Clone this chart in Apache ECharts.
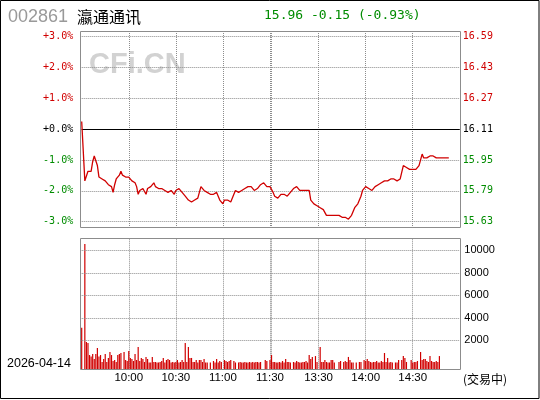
<!DOCTYPE html>
<html><head><meta charset="utf-8">
<script src="https://cdn.jsdelivr.net/npm/echarts@6/dist/echarts.min.js"></script>
<style>html,body{margin:0;padding:0;background:#fff}#c{width:540px;height:400px}</style>
</head><body><div id="c"></div>
<script>
const stockCode = '002861';
const stockName = '瀛通通讯';
const quoteText = '15.96 -0.15 (-0.93%)';
const watermarkText = 'CFi.CN';
const tradeDate = '2026-04-14';
const statusText = '(交易中)';
const prevClose = 16.11;
const pctRange = 3.18;
const pctTickValues = [3, 2, 1, 0, -1, -2, -3];
const pctTickLabels = ['+3.0%', '+2.0%', '+1.0%', '+0.0%', '-1.0%', '-2.0%', '-3.0%'];
const priceTickLabels = ['16.59', '16.43', '16.27', '16.11', '15.95', '15.79', '15.63'];
const volTickValues = [10000, 8000, 6000, 4000, 2000];
const volTickLabels = ['10000', '8000', '6000', '4000', '2000'];
const volAxisMin = -578;
const volAxisMax = 11031;
const timeTickLabels = ['10:00', '10:30', '11:00', '11:30', '13:30', '14:00', '14:30'];
const gridTimes = ['10:00', '10:30', '11:00', '11:30', '13:00', '13:30', '14:00', '14:30'];

// minute prices from 09:30
const prices = [
16.15,16.15,15.84,15.84,15.89,15.89,15.89,15.94,15.97,15.98,
15.92,15.86,15.85,15.85,15.85,15.84,15.85,15.82,15.81,15.81,
15.78,15.82,15.85,15.86,15.87,15.89,15.87,15.86,15.86,15.87,
15.86,15.85,15.84,15.84,15.83,15.81,15.77,15.79,15.80,15.80,
15.79,15.77,15.80,15.80,15.81,15.82,15.83,15.81,15.81,15.80,
15.80,15.80,15.80,15.79,15.79,15.78,15.77,15.79,15.78,15.77,
15.79,15.80,15.80,15.79,15.78,15.77,15.76,15.75,15.74,15.74,
15.73,15.73,15.74,15.74,15.75,15.78,15.81,15.81,15.79,15.78,
15.78,15.78,15.77,15.77,15.77,15.77,15.78,15.76,15.74,15.73,
15.72,15.74,15.74,15.74,15.74,15.73,15.72,15.77,15.79,15.79,
15.78,15.78,15.79,15.79,15.80,15.80,15.81,15.81,15.81,15.81,
15.79,15.80,15.80,15.81,15.82,15.83,15.83,15.83,15.81,15.81,
15.81,15.80,15.78,15.76,15.76,15.75,15.76,15.77,15.77,15.77,
15.76,15.76,15.77,15.78,15.79,15.80,15.81,15.81,15.80,15.79,
15.79,15.79,15.79,15.79,15.79,15.79,15.74,15.73,15.72,15.72,
15.71,15.72,15.70,15.69,15.69,15.69,15.66,15.66,15.66,15.66,
15.66,15.66,15.66,15.66,15.66,15.66,15.65,15.65,15.65,15.65,
15.64,15.63,15.66,15.68,15.70,15.71,15.72,15.73,15.76,15.79,
15.80,15.81,15.81,15.80,15.79,15.79,15.80,15.81,15.81,15.82,
15.82,15.83,15.83,15.84,15.85,15.84,15.85,15.85,15.85,15.85,
15.85,15.84,15.85,15.85,15.85,15.92,15.93,15.91,15.91,15.90,
15.90,15.90,15.90,15.90,15.91,15.92,15.95,15.98,15.96,15.95,
15.96,15.96,15.97,15.98,15.97,15.96,15.96,15.96,15.96,15.96,
15.96,15.96,15.96,15.96,15.96
];

// minute volumes (lots) from 09:30
const volumes = [
3120,null,10560,1850,1760,690,550,780,340,780,
1320,550,690,70,340,780,70,430,960,690,
160,250,70,690,780,870,null,960,250,160,
1050,430,340,160,780,250,1400,160,430,340,
70,520,340,30,30,520,70,70,30,30,
70,160,430,30,250,340,250,30,70,30,
70,250,30,70,250,70,1760,70,1400,430,
430,70,70,250,30,250,250,70,340,30,
30,null,30,null,160,30,340,30,160,70,
null,250,160,70,160,250,null,160,30,null,
30,70,30,30,70,30,30,70,30,70,
30,70,70,30,70,null,null,250,160,null,
250,690,70,70,30,30,70,30,160,30,
340,70,70,30,null,70,30,160,70,30,
30,70,70,160,30,690,340,520,null,600,
70,null,1400,70,70,250,70,30,30,250,
250,30,null,null,70,160,null,70,160,70,
520,250,30,30,null,30,null,70,70,null,
250,160,340,160,70,30,70,70,160,30,
30,160,70,870,70,430,30,70,30,null,
30,30,250,null,250,600,430,70,null,null,
250,30,70,70,160,null,960,250,340,340,
160,70,600,160,70,70,160,70,600,null,
null,null,null,null,null
];

function sessionMinutes(h1, m1, h2, m2) {
  const out = [];
  for (let t = h1 * 60 + m1; t <= h2 * 60 + m2; t++) {
    out.push(String(Math.floor(t / 60)).padStart(2, '0') + ':' + String(t % 60).padStart(2, '0'));
  }
  return out;
}
const times = sessionMinutes(9, 30, 11, 30).concat(sessionMinutes(13, 0, 15, 0));

const RED = '#d00000', GREEN = '#008c00', GRID = '#8c8c8c', BORDER = '#8c8c8c';
const MONO = 'DejaVu Sans Mono';
const pctValues = prices.map(p => (p / prevClose - 1) * 100);
const findTick = (arr, v) => arr.findIndex(t => Math.abs(t - Number(v)) < 1e-6);
const pctColor = v => { v = Number(v); return v > 1e-6 ? RED : (v < -1e-6 ? GREEN : '#000'); };

const chart = echarts.init(document.getElementById('c'));
const dotted = { color: GRID, width: 1, type: [1, 1] };
chart.setOption({
  animation: false,
  grid: [
    { left: 81.7, top: 31, width: 378.1, height: 196.3 },
    { left: 81.7, top: 238.7, width: 378.1, height: 130.6 }
  ],
  xAxis: [
    { type: 'category', gridIndex: 0, data: times, boundaryGap: false,
      axisLine: { show: false }, axisTick: { show: false }, axisLabel: { show: false },
      splitLine: { show: true, interval: (i, v) => gridTimes.includes(v), lineStyle: dotted } },
    { type: 'category', gridIndex: 1, data: times, boundaryGap: false,
      axisLine: { show: false }, axisTick: { show: false },
      axisLabel: { show: true, interval: (i, v) => timeTickLabels.includes(v), margin: 3,
        color: '#000', fontFamily: 'Liberation Sans', fontSize: 11.5 },
      splitLine: { show: true, interval: (i, v) => gridTimes.includes(v), lineStyle: dotted } }
  ],
  yAxis: [
    { type: 'value', gridIndex: 0, position: 'left', min: -pctRange, max: pctRange,
      axisLine: { show: false }, axisTick: { show: false },
      splitLine: { show: true, lineStyle: dotted },
      axisLabel: { margin: 8.5, fontFamily: MONO, fontSize: 10,
        formatter: v => { const k = findTick(pctTickValues, v); return k < 0 ? '' : pctTickLabels[k]; },
        color: v => pctColor(v) } },
    { type: 'value', gridIndex: 0, position: 'right', min: -pctRange, max: pctRange,
      axisLine: { show: false }, axisTick: { show: false }, splitLine: { show: false },
      axisLabel: { margin: 3, fontFamily: MONO, fontSize: 10,
        formatter: v => { const k = findTick(pctTickValues, v); return k < 0 ? '' : priceTickLabels[k]; },
        color: v => pctColor(v) } },
    { type: 'value', gridIndex: 1, position: 'right', min: volAxisMin, max: volAxisMax, startValue: volAxisMin,
      axisLine: { show: false }, axisTick: { show: false }, splitLine: { show: false },
      axisLabel: { margin: 4.5, fontFamily: 'Liberation Sans', fontSize: 11, color: '#000',
        formatter: v => { const k = findTick(volTickValues, v); return k < 0 ? '' : volTickLabels[k]; } } }
  ],
  series: [
    { type: 'line', xAxisIndex: 0, yAxisIndex: 0, data: pctValues, showSymbol: false, symbol: 'none',
      lineStyle: { color: RED, width: 1.3 }, z: 5,
      markLine: { silent: true, symbol: ['none', 'none'], label: { show: false },
        lineStyle: { color: '#000', width: 1, type: 'solid' },
        data: [{ yAxis: pctTickValues[3] }] } },
    { type: 'bar', xAxisIndex: 1, yAxisIndex: 2, data: volumes, barWidth: 1.2,
      itemStyle: { color: RED },
      markLine: { silent: true, symbol: ['none', 'none'], label: { show: false },
        lineStyle: dotted, data: volTickValues.map(v => ({ yAxis: v })) } }
  ],
  graphic: [
    { type: 'rect', z: 100, shape: { x: 0.5, y: 0.5, width: 538.5, height: 398 },
      style: { fill: null, stroke: '#000', lineWidth: 1 } },
    { type: 'rect', z: 100, shape: { x: 80.5, y: 31.5, width: 380, height: 196 },
      style: { fill: null, stroke: BORDER, lineWidth: 1 } },
    { type: 'rect', z: 100, shape: { x: 80.5, y: 238.5, width: 380, height: 131 },
      style: { fill: null, stroke: BORDER, lineWidth: 1 } },
    { type: 'text', z: 100, x: 8, y: 17,
      style: { text: stockCode, font: '18px "Liberation Sans"', fill: '#999', textAlign: 'left', textVerticalAlign: 'middle' } },
    { type: 'text', z: 100, x: 77, y: 16.5,
      style: { text: stockName, font: '16px "Noto Sans CJK SC"', fill: '#000', textAlign: 'left', textVerticalAlign: 'middle' } },
    { type: 'text', z: 100, x: 264, y: 16,
      style: { text: quoteText, font: '13px "DejaVu Sans Mono"', fill: GREEN, textAlign: 'left', textVerticalAlign: 'middle' } },
    { type: 'text', z: -1, x: 89, y: 65,
      style: { text: watermarkText, font: 'bold 29px "Liberation Sans"', fill: '#d2d2d2', textAlign: 'left', textVerticalAlign: 'middle' } },
    { type: 'text', z: 100, x: 7, y: 363.5,
      style: { text: tradeDate, font: '12.5px "Liberation Sans"', fill: '#000', textAlign: 'left', textVerticalAlign: 'middle' } },
    { type: 'text', z: 100, x: 463, y: 379,
      style: { text: statusText, font: '12px "Noto Sans CJK SC"', fill: '#000', textAlign: 'left', textVerticalAlign: 'middle' } }
  ]
});
</script></body></html>
